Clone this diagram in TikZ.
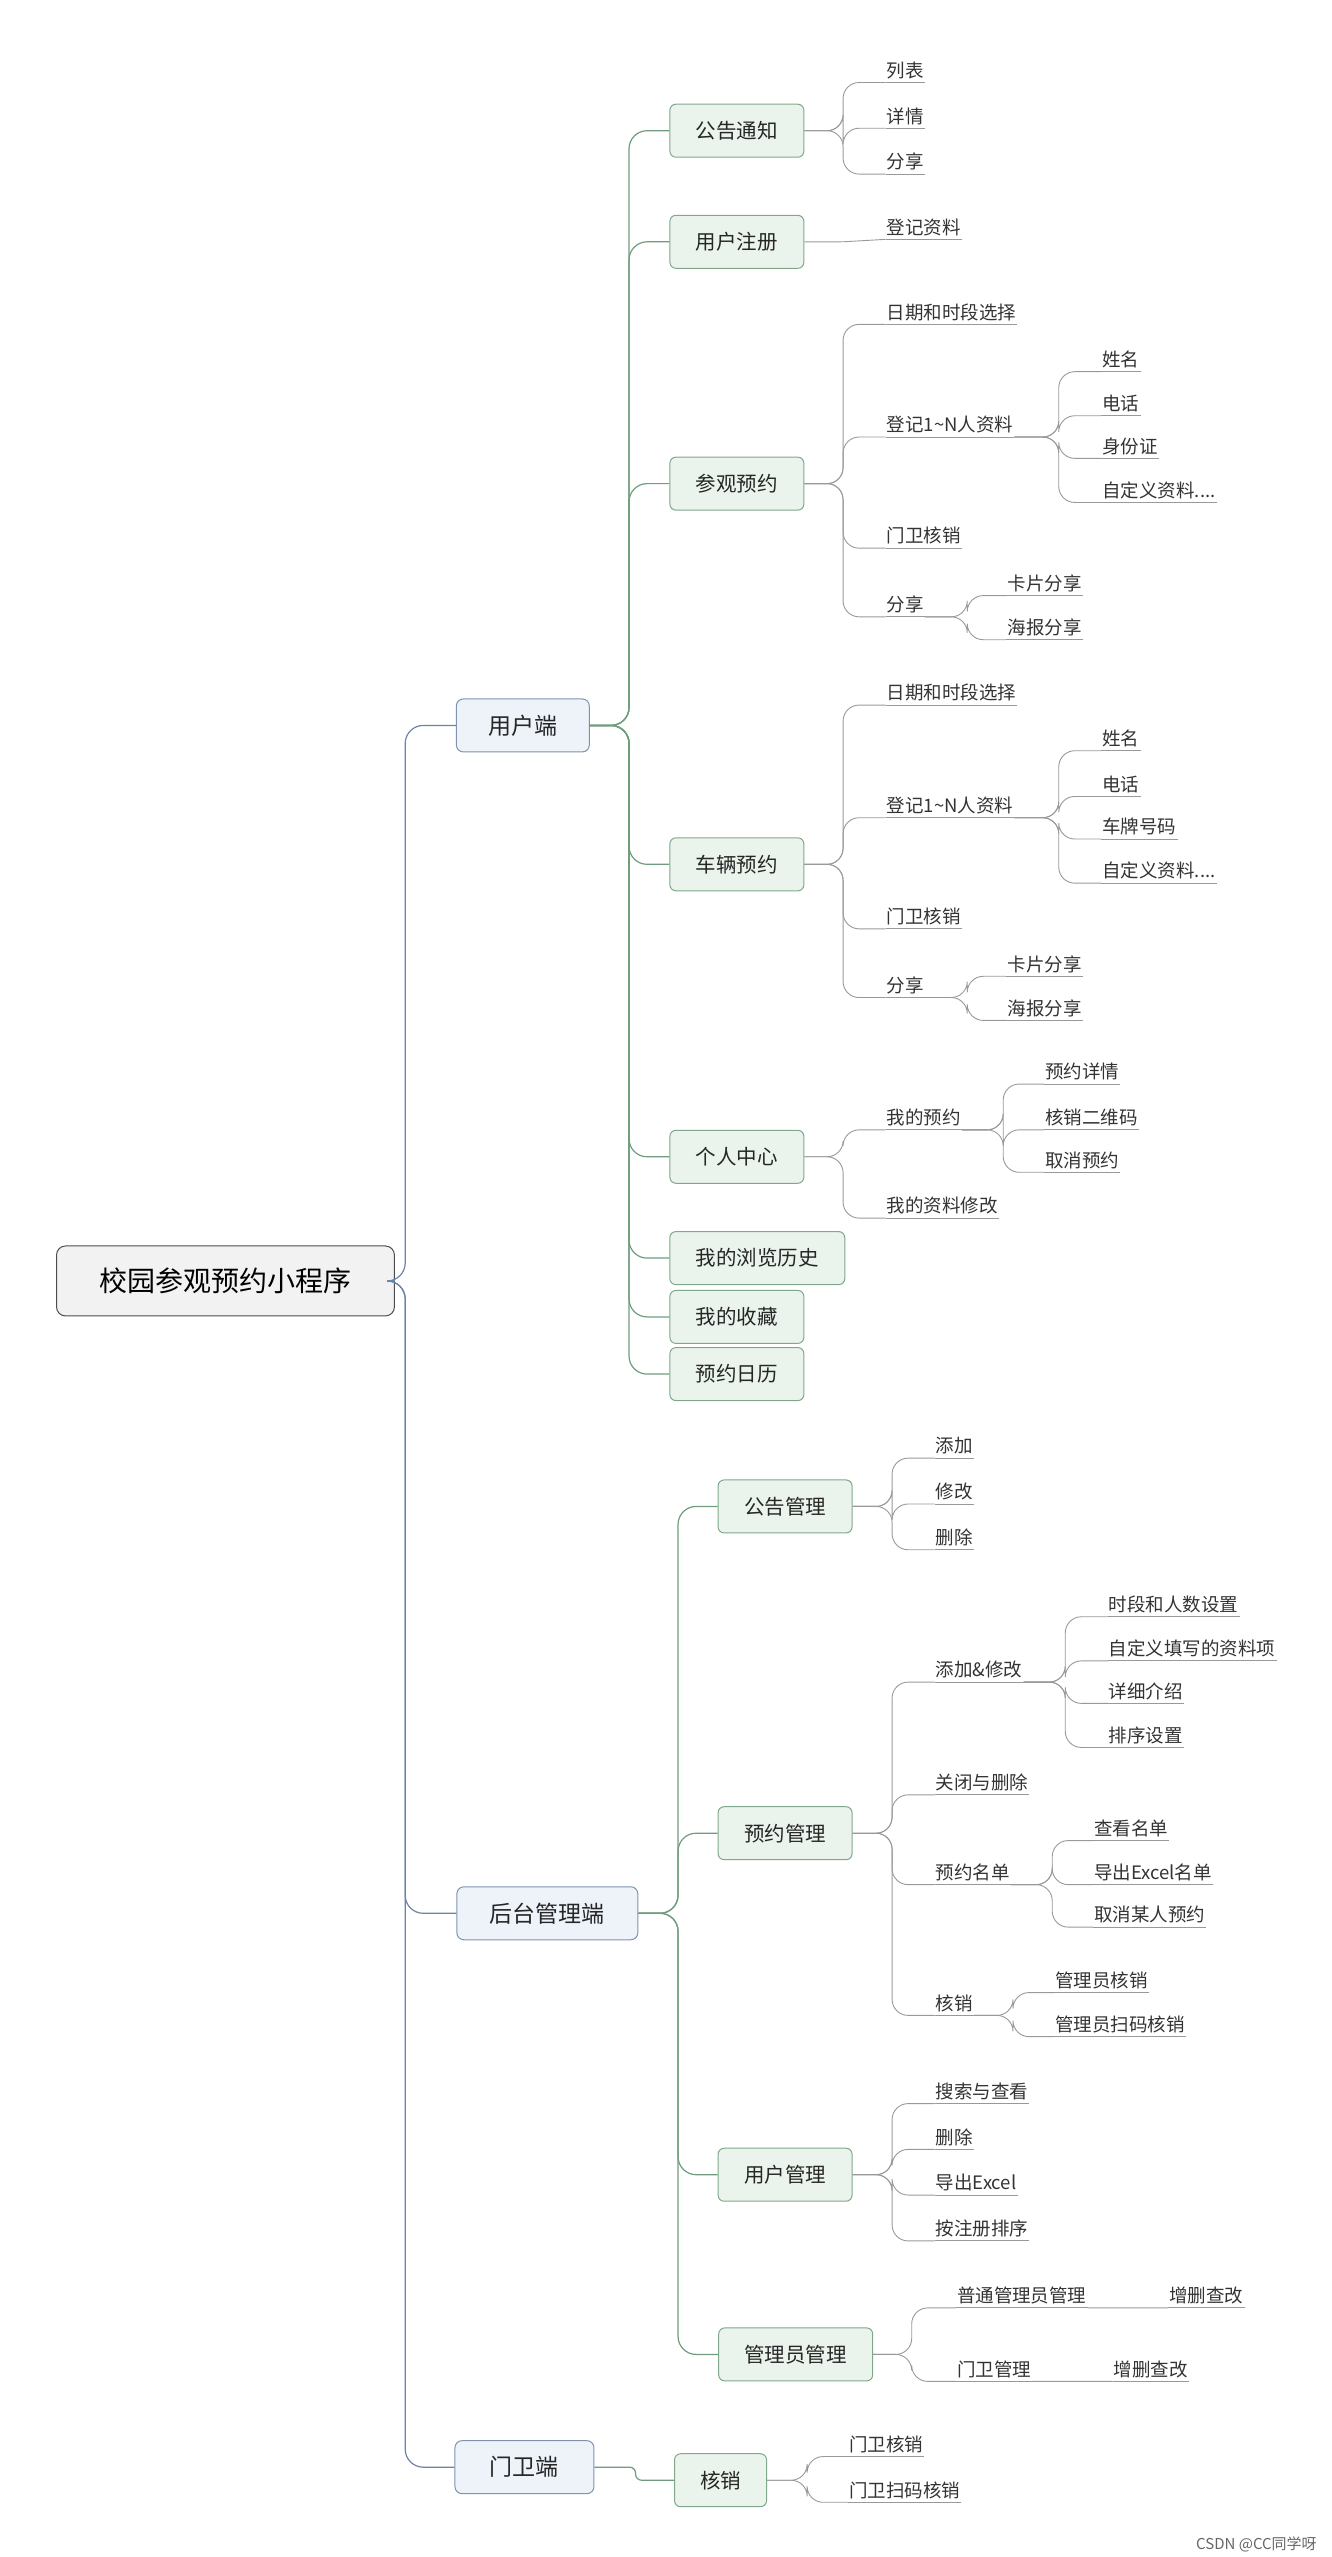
\documentclass[tikz,border=0pt]{standalone}
\usepackage{fontspec}
\setmainfont{Noto Sans CJK SC}
\definecolor{gborder}{HTML}{7FA88A}
\definecolor{gfill}{HTML}{EAF4EC}
\definecolor{bborder}{HTML}{7F93B0}
\definecolor{bfill}{HTML}{EEF3FA}
\definecolor{gline}{HTML}{6E9C7C}
\definecolor{bline}{HTML}{6A84A6}
\begin{document}
\begin{tikzpicture}[x=1.6344pt,y=-1.6344pt,
  leaf/.style={anchor=west,inner xsep=1pt,inner ysep=3.5pt,font=\fontsize{18.5}{20}\selectfont,text=black!80,
    append after command={(\tikzlastnode.south west) edge[draw=black!40,line width=0.9pt] (\tikzlastnode.south east)}},
  gbox/.style={draw=gborder,fill=gfill,rounded corners=6pt,line width=1pt,minimum height=53pt,inner xsep=14pt,font=\fontsize{20.5}{22}\selectfont,text=black!85},
  bbox/.style={draw=bborder,fill=bfill,rounded corners=7pt,line width=1pt,minimum height=53pt,inner xsep=16pt,font=\fontsize{23}{26}\selectfont,text=black!85},
  lc/.style={draw=black!40,line width=0.9pt,rounded corners=16pt},
  gc/.style={draw=gline,line width=1.2pt,rounded corners=18pt},
  bc/.style={draw=bline,line width=1.2pt,rounded corners=18pt}]
\useasboundingbox (0,0) rectangle (815,1565);
\newcommand\fan[4]{\path (#3,0) coordinate (fanb);
  \foreach \l in {#4} {\draw[#1] (#2) -- (#2 -| fanb) -- (\l -| fanb) -- (\l);}}
% root
\node[draw=black!70,fill=black!5,rounded corners=9pt,line width=1pt,minimum width=338pt,minimum height=70pt,font=\fontsize{28}{32}\selectfont] (root) at (138,784) {校园参观预约小程序};
\node[bbox,minimum width=133pt] (u) at (320,444) {用户端};
\node[bbox,minimum width=181pt] (a) at (335,1171) {后台管理端};
\node[bbox,minimum width=139pt] (g) at (321,1510) {门卫端};
\fan{bc}{root.east}{248}{u.west,a.west,g.west}
% user side
\node[gbox,minimum width=134pt] (u1) at (451,80) {公告通知};
\node[gbox,minimum width=134pt] (u2) at (451,148) {用户注册};
\node[gbox,minimum width=134pt] (u3) at (451,296) {参观预约};
\node[gbox,minimum width=134pt] (u4) at (451,529) {车辆预约};
\node[gbox,minimum width=134pt] (u5) at (451,708) {个人中心};
\node[gbox,minimum width=175pt] (u6) at (463.5,770) {我的浏览历史};
\node[gbox,minimum width=134pt] (u7) at (451,806) {我的收藏};
\node[gbox,minimum width=134pt] (u8) at (451,841) {预约日历};
\fan{gc}{u.east}{385}{u1.west,u2.west,u3.west,u4.west,u5.west,u6.west,u7.west,u8.west}
\node[leaf] (l11) at (542,43) {列表};
\node[leaf] (l12) at (542,71) {详情};
\node[leaf] (l13) at (542,99) {分享};
\fan{lc}{u1.east}{516}{l11.south west,l12.south west,l13.south west}
\node[leaf] (l21) at (542,139) {登记资料};
\draw[lc,rounded corners=3pt] (u2.east) -- (516,148) -- (l21.south west);
% 参观预约
\node[leaf] (p1) at (542,191) {日期和时段选择};
\node[leaf] (p2) at (542,260) {登记1\textasciitilde N人资料};
\node[leaf] (p3) at (542,328) {门卫核销};
\node[leaf] (p4) at (542,370) {分享};
\fan{lc}{u3.east}{516}{p1.south west,p2.south west,p3.south west,p4.south west}
\node[leaf] (p21) at (674,220) {姓名};
\node[leaf] (p22) at (674,247) {电话};
\node[leaf] (p23) at (674,273) {身份证};
\node[leaf] (p24) at (674,300) {自定义资料....};
\fan{lc}{p2.south east}{648}{p21.south west,p22.south west,p23.south west,p24.south west}
\node[leaf] (p41) at (616,357) {卡片分享};
\node[leaf] (p42) at (616,384) {海报分享};
\fan{lc}{p4.south east}{592}{p41.south west,p42.south west}
% 车辆预约
\node[leaf] (c1) at (542,424) {日期和时段选择};
\node[leaf] (c2) at (542,493) {登记1\textasciitilde N人资料};
\node[leaf] (c3) at (542,561) {门卫核销};
\node[leaf] (c4) at (542,603) {分享};
\fan{lc}{u4.east}{516}{c1.south west,c2.south west,c3.south west,c4.south west}
\node[leaf] (c21) at (674,452) {姓名};
\node[leaf] (c22) at (674,480) {电话};
\node[leaf] (c23) at (674,506) {车牌号码};
\node[leaf] (c24) at (674,533) {自定义资料....};
\fan{lc}{c2.south east}{648}{c21.south west,c22.south west,c23.south west,c24.south west}
\node[leaf] (c41) at (616,590) {卡片分享};
\node[leaf] (c42) at (616,617) {海报分享};
\fan{lc}{c4.south east}{592}{c41.south west,c42.south west}
% 个人中心
\node[leaf] (m1) at (542,684) {我的预约};
\node[leaf] (m2) at (542,738) {我的资料修改};
\fan{lc}{u5.east}{516}{m1.south west,m2.south west}
\node[leaf] (m11) at (639,656) {预约详情};
\node[leaf] (m12) at (639,684) {核销二维码};
\node[leaf] (m13) at (639,710) {取消预约};
\fan{lc}{m1.south east}{614}{m11.south west,m12.south west,m13.south west}
% admin
\node[gbox,minimum width=134pt] (a1) at (480.5,922) {公告管理};
\node[gbox,minimum width=134pt] (a2) at (480.5,1122) {预约管理};
\node[gbox,minimum width=134pt] (a3) at (480.5,1331) {用户管理};
\node[gbox,minimum width=154pt] (a4) at (487,1441) {管理员管理};
\fan{gc}{a.east}{415}{a1.west,a2.west,a3.west,a4.west}
\node[leaf] (n1) at (572,885) {添加};
\node[leaf] (n2) at (572,913) {修改};
\node[leaf] (n3) at (572,941) {删除};
\fan{lc}{a1.east}{546}{n1.south west,n2.south west,n3.south west}
\node[leaf] (r1) at (572,1022) {添加\&修改};
\node[leaf] (r2) at (572,1091) {关闭与删除};
\node[leaf] (r3) at (572,1146) {预约名单};
\node[leaf] (r4) at (572,1226) {核销};
\fan{lc}{a2.east}{546}{r1.south west,r2.south west,r3.south west,r4.south west}
\node[leaf] (r11) at (678,982) {时段和人数设置};
\node[leaf] (r12) at (678,1009) {自定义填写的资料项};
\node[leaf] (r13) at (678,1035) {详细介绍};
\node[leaf] (r14) at (678,1062) {排序设置};
\fan{lc}{r1.south east}{652}{r11.south west,r12.south west,r13.south west,r14.south west}
\node[leaf] (r31) at (669,1119) {查看名单};
\node[leaf] (r32) at (669,1146) {导出Excel名单};
\node[leaf] (r33) at (669,1172) {取消某人预约};
\fan{lc}{r3.south east}{644}{r31.south west,r32.south west,r33.south west}
\node[leaf] (r41) at (645,1212) {管理员核销};
\node[leaf] (r42) at (645,1239) {管理员扫码核销};
\fan{lc}{r4.south east}{620}{r41.south west,r42.south west}
\node[leaf] (s1) at (572,1280) {搜索与查看};
\node[leaf] (s2) at (572,1308) {删除};
\node[leaf] (s3) at (572,1336) {导出Excel};
\node[leaf] (s4) at (572,1364) {按注册排序};
\fan{lc}{a3.east}{546}{s1.south west,s2.south west,s3.south west,s4.south west}
\node[leaf] (t1) at (585,1405) {普通管理员管理};
\node[leaf] (t2) at (585,1450) {门卫管理};
\fan{lc}{a4.east}{558}{t1.south west,t2.south west}
\node[leaf] (t11) at (715,1405) {增删查改};
\node[leaf] (t21) at (681,1450) {增删查改};
\draw[lc] (t1.south east) -- (t11.south west);
\draw[lc] (t2.south east) -- (t21.south west);
% guard
\node[gbox,minimum width=92pt] (g1) at (441,1518) {核销};
\draw[gc,rounded corners=6pt] (g.east) -- (389,1510) -- (389,1518) -- (g1.west);
\node[leaf] (k1) at (519,1496) {门卫核销};
\node[leaf] (k2) at (519,1524) {门卫扫码核销};
\fan{lc}{g1.east}{494}{k1.south west,k2.south west}
\node[font=\fontsize{15}{17}\selectfont,text=black!60,anchor=east] (csdn) at (808,1557) {CSDN @CC同学呀};
\end{tikzpicture}
\end{document}
